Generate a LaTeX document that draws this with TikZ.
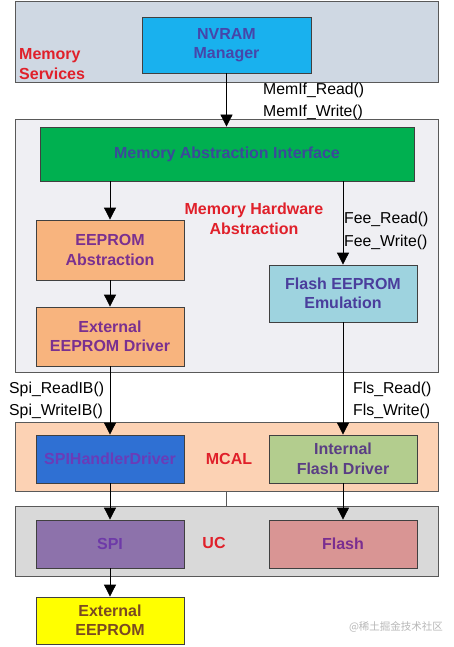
\documentclass[tikz,border=0pt]{standalone}
\usepackage{fontspec}
\setmainfont{Liberation Sans}
\newfontfamily\cjkfont{Noto Sans CJK SC}
\usetikzlibrary{arrows.meta}
\definecolor{msfill}{HTML}{CFD8E3}
\definecolor{nvfill}{HTML}{19B1EE}
\definecolor{mhafill}{HTML}{EFEFF3}
\definecolor{maifill}{HTML}{00B050}
\definecolor{eefill}{HTML}{F8B47E}
\definecolor{feefill}{HTML}{9ED3DF}
\definecolor{mcalfill}{HTML}{FCD2B4}
\definecolor{spihfill}{HTML}{2F70D3}
\definecolor{ifdfill}{HTML}{B3CD8E}
\definecolor{ucfill}{HTML}{D9D9D9}
\definecolor{spifill}{HTML}{8D72AB}
\definecolor{flashfill}{HTML}{D99594}
\definecolor{extfill}{HTML}{FFFF00}
\definecolor{lblred}{HTML}{E0202A}
\definecolor{txnv}{HTML}{4646AA}
\definecolor{txmai}{HTML}{3B4A9A}
\definecolor{txee}{HTML}{7A3090}
\definecolor{txfee}{HTML}{4A3E9C}
\definecolor{txspih}{HTML}{6A3CB8}
\definecolor{txifd}{HTML}{5A3E84}
\definecolor{txspi}{HTML}{6E3AA8}
\definecolor{txflash}{HTML}{7A2E90}
\definecolor{txext}{HTML}{7A4A22}
\tikzset{
  layer/.style={draw=black!65, line width=0.8pt, rectangle, minimum width=423pt},
  modbox/.style={draw=black!75, line width=0.8pt, rectangle, align=center, inner sep=0pt,
    font=\bfseries\fontsize{16}{19.5}\selectfont},
  redlbl/.style={text=lblred, font=\bfseries\fontsize{16}{19.5}\selectfont, inner sep=0pt},
  fnlbl/.style={anchor=west, inner sep=0pt, font=\fontsize{15.8}{19}\selectfont},
  conn/.style={draw=black, line width=0.8pt},
  arr/.style={conn, -{Triangle[length=12pt,width=12pt]}}
}
\begin{document}
\begin{tikzpicture}[x=1pt,y=-1pt]
\useasboundingbox (0,0) rectangle (454,647);
\fill[white] (0,0) rectangle (454,647);
% layers
\node[layer, fill=msfill, minimum height=81pt] (ms) at (226.5,41.5) {};
\node[layer, fill=mhafill, minimum height=253pt] (mha) at (226.5,245.5) {};
\node[layer, fill=mcalfill, minimum height=69pt] (mcal) at (226.5,456.5) {};
\node[layer, fill=ucfill, minimum height=70pt] (uc) at (226.5,541) {};
% modules
\node[modbox, fill=nvfill, text=txnv, minimum width=169pt, minimum height=56pt] (nvram) at (226.5,45) {NVRAM\\Manager};
\node[modbox, fill=maifill, text=txmai, minimum width=374pt, minimum height=54pt] (mai) at (227,154) {Memory Abstraction Interface};
\node[modbox, fill=eefill, text=txee, minimum width=148pt, minimum height=60pt] (eeab) at (110,250) {EEPROM\\Abstraction};
\node[modbox, fill=eefill, text=txee, minimum width=148pt, minimum height=59pt] (extdrv) at (110,336.5) {External\\EEPROM Driver};
\node[modbox, fill=feefill, text=txfee, minimum width=148pt, minimum height=57pt] (fee) at (343,293.5) {Flash EEPROM\\Emulation};
\node[modbox, fill=spihfill, text=txspih, minimum width=148pt, minimum height=48pt] (spih) at (110,459) {SPIHandlerDriver};
\node[modbox, fill=ifdfill, text=txifd, minimum width=148pt, minimum height=48pt] (ifd) at (343,459) {Internal\\Flash Driver};
\node[modbox, fill=spifill, text=txspi, minimum width=148pt, minimum height=48pt] (spi) at (110,544) {SPI};
\node[modbox, fill=flashfill, text=txflash, minimum width=148pt, minimum height=48pt] (flash) at (343,544) {Flash};
\node[modbox, fill=extfill, text=txext, minimum width=148pt, minimum height=47pt] (exteep) at (110,620.5) {External\\EEPROM};
% layer labels
\node[redlbl, anchor=west, align=left] (lms) at (19,64) {Memory\\Services};
\node[redlbl, align=center] (lmha) at (254,219) {Memory Hardware\\Abstraction};
\node[redlbl] (lmcal) at (229,459) {MCAL};
\node[redlbl] (luc) at (214,543) {UC};
% function labels
\node[fnlbl] (memr) at (263,90) {MemIf\_Read()};
\node[fnlbl] (memw) at (263,112) {MemIf\_Write()};
\node[fnlbl] (feer) at (344,219) {Fee\_Read()};
\node[fnlbl] (feew) at (344,242) {Fee\_Write()};
\node[fnlbl] (flsr) at (353,389) {Fls\_Read()};
\node[fnlbl] (flsw) at (353,411) {Fls\_Write()};
\node[fnlbl] (spir) at (9,389) {Spi\_ReadIB()};
\node[fnlbl] (spiw) at (9,411) {Spi\_WriteIB()};
% connectors
\draw[arr] (nvram.south) -- (nvram.south |- mai.north);
\draw[arr] (mai.south -| eeab.north) -- (eeab.north);
\draw[arr] (mai.south -| fee.north) -- (fee.north);
\draw[arr] (eeab.south) -- (extdrv.north);
\draw[arr] (extdrv.south) -- (spih.north);
\draw[arr] (fee.south) -- (ifd.north);
\draw[arr] (spih.south) -- (spi.north);
\draw[arr] (ifd.south) -- (flash.north);
\draw[arr] (spi.south) -- (exteep.north);
\draw[conn, draw=black!65] (mcal.south) -- (uc.north);
% watermark
\node[text=black!28, font=\cjkfont\fontsize{10.5}{12}\selectfont, inner sep=0pt] (wm) at (396,627) {@稀土掘金技术社区};
\end{tikzpicture}
\end{document}
